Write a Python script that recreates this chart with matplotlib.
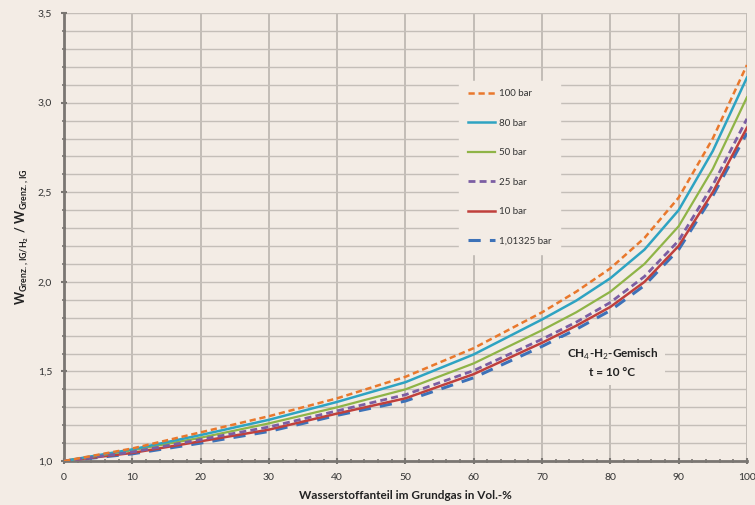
import numpy as np
import matplotlib.pyplot as plt
from matplotlib.ticker import MultipleLocator, FuncFormatter

plt.rcParams['font.family'] = ['Lato', 'DejaVu Sans']
plt.rcParams['mathtext.fontset'] = 'custom'
plt.rcParams['mathtext.rm'] = 'Lato'
plt.rcParams['mathtext.bf'] = 'Lato:bold'

# H2 share in base gas (vol-%)
h2 = [0, 10, 20, 30, 40, 50, 60, 70, 75, 80, 85, 90, 95, 100]

# W ratio per pressure level
p100 = [1.0, 1.07, 1.16, 1.25, 1.35, 1.47, 1.63, 1.83, 1.945, 2.075, 2.245, 2.47, 2.80, 3.21]
p80 = [1.0, 1.065, 1.145, 1.23, 1.33, 1.44, 1.595, 1.79, 1.895, 2.02, 2.18, 2.40, 2.73, 3.14]
p50 = [1.0, 1.06, 1.13, 1.21, 1.30, 1.40, 1.545, 1.73, 1.83, 1.945, 2.10, 2.31, 2.63, 3.03]
p25 = [1.0, 1.05, 1.12, 1.19, 1.28, 1.37, 1.505, 1.68, 1.775, 1.885, 2.03, 2.23, 2.54, 2.91]
p10 = [1.0, 1.045, 1.11, 1.175, 1.265, 1.35, 1.485, 1.66, 1.755, 1.86, 2.00, 2.20, 2.50, 2.86]
p_atm = [1.0, 1.04, 1.10, 1.165, 1.255, 1.335, 1.465, 1.64, 1.735, 1.84, 1.98, 2.18, 2.48, 2.83]

bg = '#f3ece5'
fig = plt.figure(figsize=(7.55, 5.05), dpi=100, facecolor=bg)
ax = fig.add_axes([0.0848, 0.0871, 0.9045, 0.887])
ax.set_facecolor(bg)

ax.plot(h2, p_atm, color='#3d72b8', lw=2.2, dashes=(4, 3), label='1,01325 bar', zorder=3)
ax.plot(h2, p10, color='#c0403c', lw=1.8, label='10 bar', zorder=4)
ax.plot(h2, p25, color='#7b5ea3', lw=2.0, dashes=(2.5, 1.5), label='25 bar', zorder=5)
ax.plot(h2, p50, color='#8fb447', lw=1.6, label='50 bar', zorder=4)
ax.plot(h2, p80, color='#2ea3c2', lw=1.8, label='80 bar', zorder=4)
ax.plot(h2, p100, color='#e9782c', lw=1.8, dashes=(2.5, 1.5), label='100 bar', zorder=5)

ax.set_xlim(0, 100)
ax.set_ylim(1.0, 3.5)
ax.xaxis.set_major_locator(MultipleLocator(10))
ax.xaxis.set_minor_locator(MultipleLocator(2))
ax.yaxis.set_major_locator(MultipleLocator(0.5))
ax.yaxis.set_minor_locator(MultipleLocator(0.1))
ax.yaxis.set_major_formatter(FuncFormatter(lambda v, _: f'{v:.1f}'.replace('.', ',')))

ax.grid(which='major', axis='x', color='#b5afaa', lw=1.1)
ax.grid(which='both', axis='y', color='#c4beb8', lw=1.0)
ax.set_axisbelow(True)

for side in ['top', 'right']:
    ax.spines[side].set_visible(False)
for side in ['left', 'bottom']:
    ax.spines[side].set_color('#7a7672')
    ax.spines[side].set_linewidth(2)

ax.tick_params(which='major', length=5, width=1.5, color='#7a7672', direction='inout',
               labelsize=7.5, labelcolor='#333333', pad=6)
ax.tick_params(which='minor', length=3, width=1.2, color='#7a7672', direction='inout')

ax.set_xlabel('Wasserstoffanteil im Grundgas in Vol.-%', fontsize=8.5, fontweight='bold',
              color='#222222', labelpad=6)
ax.set_ylabel(r'$\mathbf{W_{Grenz.,IG/H_2}\ /\ W_{Grenz.,IG}}$', fontsize=9,
              color='#222222', labelpad=5)

handles, labels = ax.get_legend_handles_labels()
order = [5, 4, 3, 2, 1, 0]
leg = ax.legend([handles[i] for i in order], [labels[i] for i in order],
                loc='upper left', bbox_to_anchor=(0.571, 0.86), frameon=True,
                fontsize=7, labelspacing=2.1, handlelength=2.8, handletextpad=0.4,
                borderpad=0.9)
leg.get_frame().set_facecolor(bg)
leg.get_frame().set_edgecolor(bg)
leg.get_frame().set_alpha(1)
for t in leg.get_texts():
    t.set_color('#333333')

ax.text(80.3, 1.55, 'CH$_4$-H$_2$-Gemisch\nt = 10 °C', ha='center', va='center',
        fontsize=8.5, fontweight='bold', color='#222222', linespacing=1.5,
        bbox=dict(facecolor=bg, edgecolor='none', pad=5), zorder=6)

fig.savefig('out.png', dpi=100, facecolor=bg)
